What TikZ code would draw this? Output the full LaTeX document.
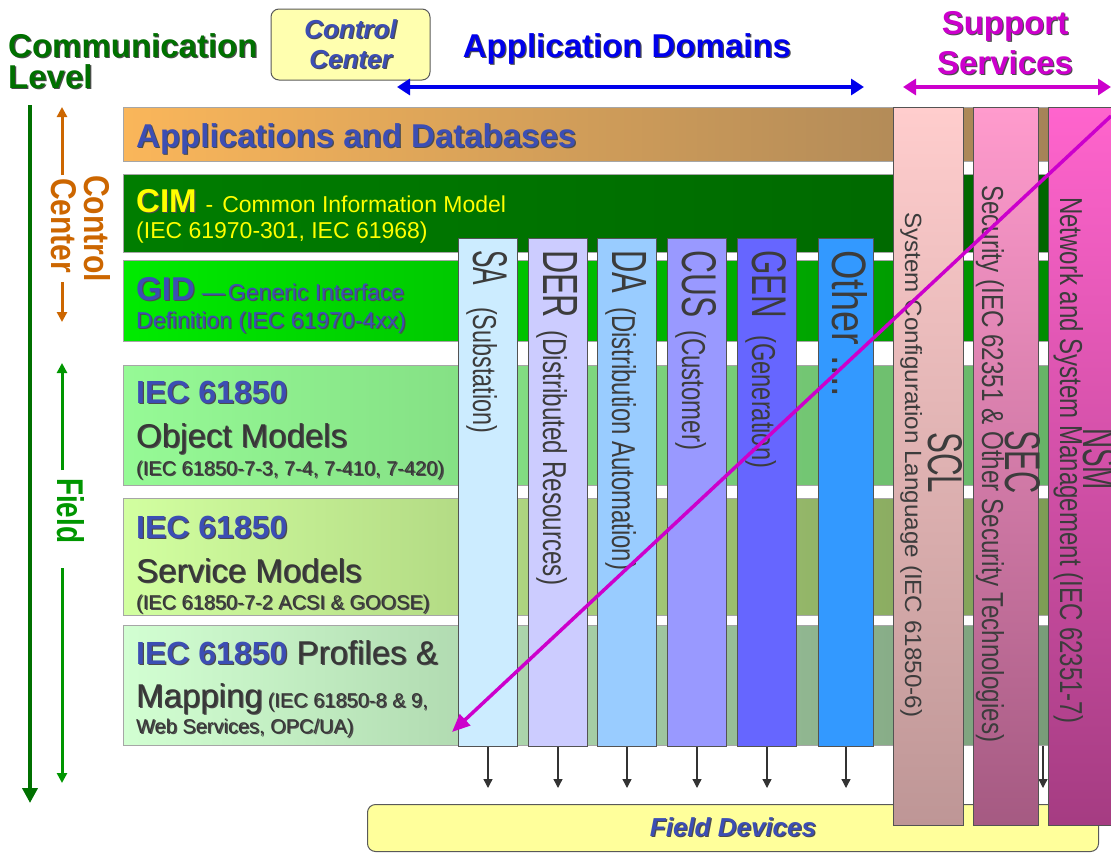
\documentclass[tikz,border=0pt]{standalone}
\usepackage{fontspec}
\setmainfont{Liberation Sans}
\usepackage{graphicx}
\usetikzlibrary{arrows.meta}

\definecolor{lvlgreen}{RGB}{0,112,0}
\definecolor{fldgreen}{RGB}{0,150,0}
\definecolor{ctlorange}{RGB}{204,102,0}
\definecolor{labblue}{RGB}{60,78,180}
\definecolor{appblue}{RGB}{0,0,235}
\definecolor{supmag}{RGB}{204,0,204}
\definecolor{txtgray}{RGB}{55,55,55}
\definecolor{colgray}{RGB}{60,60,60}
\definecolor{ccyellow}{RGB}{255,255,175}
\definecolor{fdyellow}{RGB}{255,255,155}
\definecolor{cimyellow}{RGB}{255,255,0}
% layer shades
\definecolor{appL}{RGB}{250,182,90}\definecolor{appR}{RGB}{160,128,88}
\definecolor{cimL}{RGB}{0,125,0}\definecolor{cimR}{RGB}{0,100,0}
\definecolor{gidL}{RGB}{0,235,0}\definecolor{gidR}{RGB}{0,135,0}
\definecolor{objL}{RGB}{150,250,150}\definecolor{objR}{RGB}{100,175,100}
\definecolor{svcL}{RGB}{210,255,160}\definecolor{svcR}{RGB}{120,150,80}
\definecolor{prfL}{RGB}{210,255,210}\definecolor{prfR}{RGB}{115,150,115}
% support shades
\definecolor{sclT}{RGB}{255,205,205}\definecolor{sclB}{RGB}{190,150,150}
\definecolor{secT}{RGB}{255,155,205}\definecolor{secB}{RGB}{165,90,130}
\definecolor{nsmT}{RGB}{255,100,205}\definecolor{nsmB}{RGB}{165,60,130}

\newcommand\fs[1]{\fontsize{#1}{#1}\selectfont}
\newcommand\shd[1]{\leavevmode\rlap{\kern1.2pt\raisebox{-1.2pt}{\textcolor{black!70}{#1}}}#1}
\newcommand\squeeze[3]{\resizebox{#1pt}{#2pt}{#3}}

\begin{document}
\begin{tikzpicture}[x=1pt,y=-1pt,
    lyr/.style={draw=gray!70, line width=1pt, anchor=north west, minimum width=982pt, inner sep=0pt},
    dom/.style={draw=gray!65!black, line width=1pt, anchor=north west, minimum width=59pt, minimum height=508pt, inner sep=0pt},
    supcol/.style={draw=gray!65!black, line width=1pt, anchor=north west, minimum height=718pt, inner sep=0pt},
    vlab/.style={rotate=-90, anchor=base west, inner sep=0pt, text=colgray},
    hlab/.style={anchor=base west, inner sep=0pt},
    lvlarrow/.style={lvlgreen, line width=4.5pt, -{Triangle[length=15pt,width=15pt]}},
    fldarrow/.style={fldgreen, line width=3pt, -{Triangle[length=10pt,width=10pt]}},
    ctlarrow/.style={ctlorange, line width=3pt, -{Triangle[length=10pt,width=10pt]}},
    devarrow/.style={gray!40!black, line width=1.3pt, -{Triangle[length=9pt,width=9pt]}},
    toparrow/.style={line width=4pt, {Triangle[length=13pt,width=16pt]}-{Triangle[length=13pt,width=16pt]}},
    diagarrow/.style={supmag, line width=3.5pt, -{Triangle[length=18pt,width=15pt]}}]
\useasboundingbox (0,0) rectangle (1111,854);

% level arrows on the left
\coordinate (lvl-top) at (30,105);
\coordinate (lvl-bot) at (30,803);
\draw[lvlarrow] (lvl-top) -- (lvl-bot);

\node[vlab, text=ctlorange, font=\bfseries] (ctl-a) at (84,175) {\squeeze{107}{26}{Control}};
\node[vlab, text=ctlorange, font=\bfseries] (ctl-b) at (51,178) {\squeeze{95}{25}{Center}};
\coordinate (ctl-top) at (62,107);
\coordinate (ctl-bot) at (62,322);
\draw[ctlarrow] (ctl-a.west -| ctl-top) -- (ctl-top);
\draw[ctlarrow] (ctl-a.east -| ctl-bot) -- (ctl-bot);

\node[vlab, text=fldgreen, font=\bfseries] (fld) at (57,478) {\squeeze{65}{27}{Field}};
\coordinate (fld-top) at (62,363);
\coordinate (fld-bot) at (62,783);
\draw[fldarrow] ([yshift=8pt]fld.west -| fld-top) -- (fld-top);
\draw[fldarrow] ([yshift=-25pt]fld.east -| fld-bot) -- (fld-bot);

% horizontal layers
\node[lyr, minimum height=54pt, left color=appL, right color=appR] (appdb) at (123,107) {};
\node[lyr, minimum height=78pt, left color=cimL, right color=cimR] (cim) at (123,174) {};
\node[lyr, minimum height=81pt, left color=gidL, right color=gidR] (gid) at (123,260) {};
\node[lyr, minimum height=120pt, left color=objL, right color=objR] (objm) at (123,365) {};
\node[lyr, minimum height=117pt, left color=svcL, right color=svcR] (servm) at (123,498) {};
\node[lyr, minimum height=120pt, left color=prfL, right color=prfR] (profm) at (123,625) {};

\node[hlab, text=labblue, font=\bfseries\fs{33}] (appdb-t) at (136,147) {\shd{Applications and Databases}};
\node[hlab, text=cimyellow, font=\fs{23}] (cim-t1) at (136,212)
  {{\bfseries\fs{33}\shd{CIM}}\hspace{9pt}-\hspace{9pt}Common Information Model};
\node[hlab, text=cimyellow, font=\fs{23}] (cim-t2) at (136,238) {(IEC 61970-301, IEC 61968)};
\node[hlab, text=labblue, font=\fs{23}] (gid-t1) at (136,300)
  {{\bfseries\fs{33}\shd{GID}}\hspace{7pt}\shd{---}\hspace{3pt}\shd{Generic Interface}};
\node[hlab, text=labblue, font=\fs{23}] (gid-t2) at (136,328) {\shd{Definition (IEC 61970-4xx)}};

\node[hlab, text=labblue, font=\bfseries\fs{32}] (objm-t1) at (136,403) {\shd{IEC 61850}};
\node[hlab, text=txtgray, font=\fs{33}] (objm-t2) at (136,447) {\shd{Object Models}};
\node[hlab, text=txtgray, font=\fs{20}] (objm-t3) at (136,475) {\shd{(IEC 61850-7-3, 7-4, 7-410, 7-420)}};

\node[hlab, text=labblue, font=\bfseries\fs{32}] (servm-t1) at (136,538) {\shd{IEC 61850}};
\node[hlab, text=txtgray, font=\fs{33}] (servm-t2) at (136,582) {\shd{Service Models}};
\node[hlab, text=txtgray, font=\fs{20}] (servm-t3) at (136,609) {\shd{(IEC 61850-7-2 ACSI \& GOOSE)}};

\node[hlab, text=txtgray, font=\fs{33}] (profm-t1) at (136,664)
  {{\color{labblue}\bfseries\fs{32}\shd{IEC 61850}} \shd{Profiles \&}};
\node[hlab, text=txtgray, font=\fs{33}] (profm-t2) at (136,707)
  {\shd{Mapping}\hspace{5pt}{\fs{20}\shd{(IEC 61850-8 \& 9,}}};
\node[hlab, text=txtgray, font=\fs{20}] (profm-t3) at (136,733) {\shd{Web Services, OPC/UA)}};

% application domain columns
\node[dom, fill={rgb,255:red,204;green,236;blue,255}] (sa) at (458,238) {};
\node[dom, fill={rgb,255:red,204;green,204;blue,255}] (der) at (528,238) {};
\node[dom, fill={rgb,255:red,153;green,204;blue,255}] (da) at (597,238) {};
\node[dom, fill={rgb,255:red,153;green,153;blue,255}] (cus) at (667,238) {};
\node[dom, fill={rgb,255:red,102;green,102;blue,255}] (gen) at (737,238) {};
\node[dom, minimum width=55pt, fill={rgb,255:red,51;green,153;blue,255}] (oth) at (818,238) {};

\node[vlab] (sa-t) at (473,250) {\squeeze{35}{34}{SA}\hspace{22pt}\squeeze{126}{24}{(Substation)}};
\node[vlab] (der-t) at (543,250) {\squeeze{68}{34}{DER}\hspace{12pt}\squeeze{255}{24}{(Distributed Resources)}};
\node[vlab] (da-t) at (612,250) {\squeeze{43}{34}{DA}\hspace{14pt}\squeeze{263}{24}{(Distribution Automation)}};
\node[vlab] (cus-t) at (682,250) {\squeeze{67}{34}{CUS}\hspace{13pt}\squeeze{120}{24}{(Customer)}};
\node[vlab] (gen-t) at (752,250) {\squeeze{68}{34}{GEN}\hspace{17pt}\squeeze{133}{24}{(Generation)}};
\node[vlab] (oth-t) at (832,250) {\squeeze{147}{35}{Other ....}};

% field devices and the arrows down to them
\node[draw=gray!70!black, line width=1pt, fill=fdyellow, rounded corners=8pt, anchor=north west,
  minimum width=731pt, minimum height=47pt, text=labblue, font=\bfseries\itshape\fs{26}]
  (fdev) at (367,804) {\shd{Field Devices}};
\foreach \c in {sa,der,da,cus,gen,oth}
  \draw[devarrow] (\c.south) -- ([yshift=16pt]\c.south |- fdev.north);
\coordinate (hid-a) at (1043,746);
\coordinate (hid-b) at (1043,788);
\draw[devarrow] (hid-a) -- (hid-b);

% support service columns
\node[supcol, minimum width=70pt, top color=sclT, bottom color=sclB] (scl) at (893,107) {};
\node[supcol, minimum width=65pt, top color=secT, bottom color=secB] (sec) at (973,107) {};
\node[supcol, minimum width=80pt, top color=nsmT, bottom color=nsmB] (nsm) at (1048,107) {};

\node[vlab] (scl-s) at (905,212) {\squeeze{505}{17}{System Configuration Language (IEC 61850-6)}};
\node[vlab] (scl-b) at (928,432) {\squeeze{61}{34}{SCL}};
\node[vlab] (sec-s) at (982,185) {\squeeze{557}{22}{Security (IEC 62351 \& Other Security Technologies)}};
\node[vlab] (sec-b) at (1005,430) {\squeeze{63}{35}{SEC}};
\node[vlab] (nsm-s) at (1060,197) {\squeeze{526}{23}{Network and System Management (IEC 62351-7)}};
\node[vlab] (nsm-b) at (1083,428) {\squeeze{62}{34}{NSM}};

% diagonal arrow
\coordinate (dg-a) at (1111,116);
\coordinate (dg-b) at (452,732);
\draw[diagarrow] (dg-a) -- (dg-b);

% top headings
\node[hlab, text=lvlgreen, font=\bfseries\fs{33}] (comm1) at (8,57) {\shd{Communication}};
\node[hlab, text=lvlgreen, font=\bfseries\fs{33}] (comm2) at (8,88) {\shd{Level}};

\node[draw=gray!70!black, line width=1pt, fill=ccyellow, rounded corners=8pt,
  minimum width=159pt, minimum height=71pt, align=center, text=labblue,
  font=\bfseries\itshape\fontsize{26}{30}\selectfont] (ctrlc) at (350.5,44.5) {\shd{Control}\\\shd{Center}};

\node[anchor=base, inner sep=0pt, text=appblue, font=\bfseries\fs{33}] (appdom) at (627,57) {\shd{Application Domains}};
\node[anchor=base, inner sep=0pt, text=supmag, font=\bfseries\fs{33}] (sup1) at (1005,34) {\shd{Support}};
\node[anchor=base, inner sep=0pt, text=supmag, font=\bfseries\fs{33}] (sup2) at (1005,74) {\shd{Services}};

\coordinate (ad-l) at (397,87);
\coordinate (ad-r) at (864,87);
\draw[toparrow, appblue] (ad-l) -- (ad-r);
\coordinate (ss-l) at (903,87);
\coordinate (ss-r) at (1111,87);
\draw[toparrow, supmag] (ss-l) -- (ss-r);

\end{tikzpicture}
\end{document}
